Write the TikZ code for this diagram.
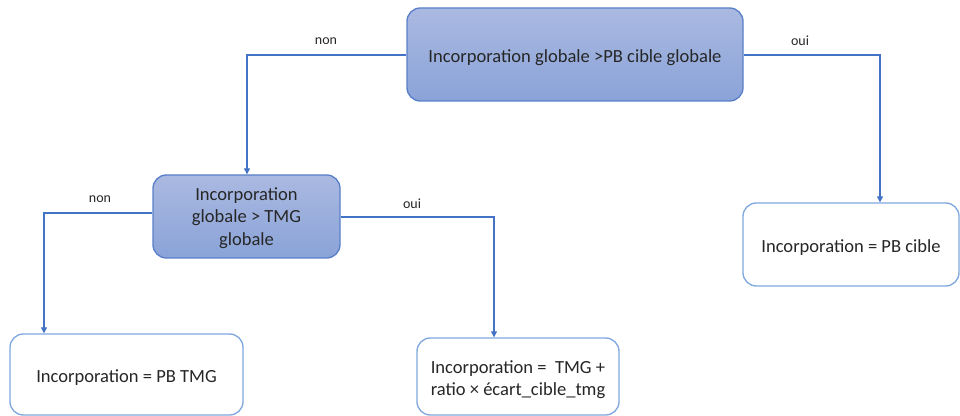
\documentclass[tikz,border=0pt]{standalone}
\usepackage{fontspec}
\setmainfont{Carlito}
\usetikzlibrary{arrows.meta,positioning}
\definecolor{boxtop}{HTML}{AAB9E1}
\definecolor{boxbot}{HTML}{8AA3D8}
\definecolor{boxline}{HTML}{5A7FC9}
\definecolor{leafline}{HTML}{7FA8DF}
\definecolor{conn}{HTML}{4472C4}
\definecolor{txt}{HTML}{262626}
\tikzset{
  cond/.style={draw=boxline, line width=1pt, rounded corners=10pt, top color=boxtop, bottom color=boxbot, inner sep=0pt},
  leaf/.style={draw=leafline, line width=1pt, rounded corners=10pt, fill=white, inner sep=0pt},
  boxtext/.style={text=txt, font=\fontsize{13.9}{16.6}\selectfont, align=center, inner sep=0pt},
  conn/.style={draw=conn, line width=0.9pt, -{Triangle[length=4.5pt,width=4.5pt]}},
  lbl/.style={text=txt, font=\fontsize{10.5}{12}\selectfont, inner sep=0pt},
}
\begin{document}
\begin{tikzpicture}[x=0.75pt,y=-0.75pt]
\useasboundingbox (0,0) rectangle (960,416);
% decision boxes
\node[cond, minimum width=336*0.75pt, minimum height=93*0.75pt] (top) at (575,54.5) {};
\node[cond, minimum width=187*0.75pt, minimum height=83*0.75pt] (mid) at (246.5,216.5) {};
% leaves
\node[leaf, minimum width=216*0.75pt, minimum height=83*0.75pt] (pbcible) at (851,244.5) {};
\node[leaf, minimum width=233*0.75pt, minimum height=81*0.75pt] (pbtmg) at (126.5,374.5) {};
\node[leaf, minimum width=202*0.75pt, minimum height=77*0.75pt] (ecart) at (518,376.5) {};
% texts
\node[boxtext] (toptxt) at ([yshift=-2.25pt]top.center) {Incorporation globale >PB cible globale};
\node[boxtext] (midtxt) at ([yshift=-1.2pt]mid.center) {Incorporation\\globale > TMG\\globale};
\node[boxtext] (pbciblet) at ([yshift=-2.25pt]pbcible.center) {Incorporation = PB cible};
\node[boxtext] (pbtmgt) at ([yshift=-2.25pt]pbtmg.center) {Incorporation = PB TMG};
\node[boxtext, align=left] (ecartt) at ([yshift=-2.6pt]ecart.center) {Incorporation =\ \ TMG +\\ratio × écart\_cible\_tmg};
% connectors
\coordinate (c1) at (247,55);
\coordinate (c2) at (880,55);
\coordinate (c3) at (44,213);
\coordinate (c4) at (494,217);
\draw[conn] (top.west |- c1) -- (c1) -- (c1 |- mid.north);
\draw[conn] (top.east |- c2) -- (c2) -- (c2 |- pbcible.north);
\draw[conn] (mid.west |- c3) -- (c3) -- (c3 |- pbtmg.north);
\draw[conn] (mid.east |- c4) -- (c4) -- (c4 |- ecart.north);
% labels
\node[lbl] (l1) at (326,41) {non};
\node[lbl] (l2) at (800,41) {oui};
\node[lbl] (l3) at (100,199) {non};
\node[lbl] (l4) at (412,204) {oui};
\end{tikzpicture}
\end{document}
